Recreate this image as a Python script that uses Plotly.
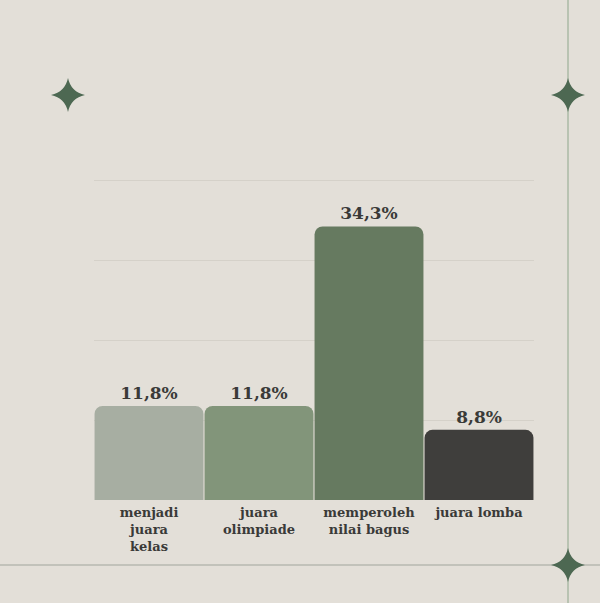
import plotly.graph_objects as go

categories = ["menjadi<br>juara<br>kelas", "juara<br>olimpiade", "memperoleh<br>nilai bagus", "juara lomba"]
values = [11.8, 11.8, 34.3, 8.8]
value_labels = ["11,8%", "11,8%", "34,3%", "8,8%"]
bar_colors = ["#a7aea2", "#82957a", "#667a60", "#3f3e3c"]

BG = "#e3dfd8"
W, H = 600, 603
L, R, T, B = 94, 66, 179, 103
PW, PH = W - L - R, H - T - B

def px_x(p):
    return (p - L) / PW

def px_y(p):
    return (H - B - p) / PH

fig = go.Figure(go.Bar(
    x=list(range(len(categories))), y=values,
    marker=dict(color=bar_colors, cornerradius=8, line=dict(width=0)),
    text=value_labels, textposition="outside", cliponaxis=False,
    textfont=dict(family="DejaVu Serif", size=17, color="#3a3a38", weight="bold"),
    hoverinfo="skip",
))

shapes = []
shapes.append(dict(type="line", xref="paper", yref="paper",
                   x0=px_x(568), x1=px_x(568), y0=px_y(0), y1=px_y(H),
                   line=dict(color="#b9c3b2", width=2), layer="below"))
shapes.append(dict(type="line", xref="paper", yref="paper",
                   x0=px_x(0), x1=px_x(W), y0=px_y(565), y1=px_y(565),
                   line=dict(color="#c2c2ba", width=2), layer="below"))
star = "M -17 0 Q -3 3 0 17 Q 3 3 17 0 Q 3 -3 0 -17 Q -3 -3 -17 0 Z"
for (sx, sy) in [(68, 95), (568, 95), (568, 565)]:
    shapes.append(dict(type="path", xref="paper", yref="paper",
                       xsizemode="pixel", ysizemode="pixel",
                       xanchor=px_x(sx), yanchor=px_y(sy), path=star,
                       fillcolor="#4d6852", line=dict(width=0)))

fig.update_layout(
    width=W, height=H,
    margin=dict(l=L, r=R, t=T, b=B),
    paper_bgcolor=BG, plot_bgcolor=BG,
    bargap=0.01,
    showlegend=False,
    shapes=shapes,
    xaxis=dict(tickvals=list(range(len(categories))), ticktext=categories,
               tickfont=dict(family="DejaVu Serif", size=13, color="#3a3a38", weight="bold"),
               ticklabelstandoff=3,
               showgrid=False, zeroline=False, showline=False, ticks="",
               range=[-0.5, 3.5], fixedrange=True),
    yaxis=dict(range=[0, 40.25], tickvals=[10, 20, 30, 40], showticklabels=False,
               showgrid=True, gridcolor="#d5d1c9", gridwidth=1,
               zeroline=False, showline=False, fixedrange=True),
)

fig.write_html("out.html")
